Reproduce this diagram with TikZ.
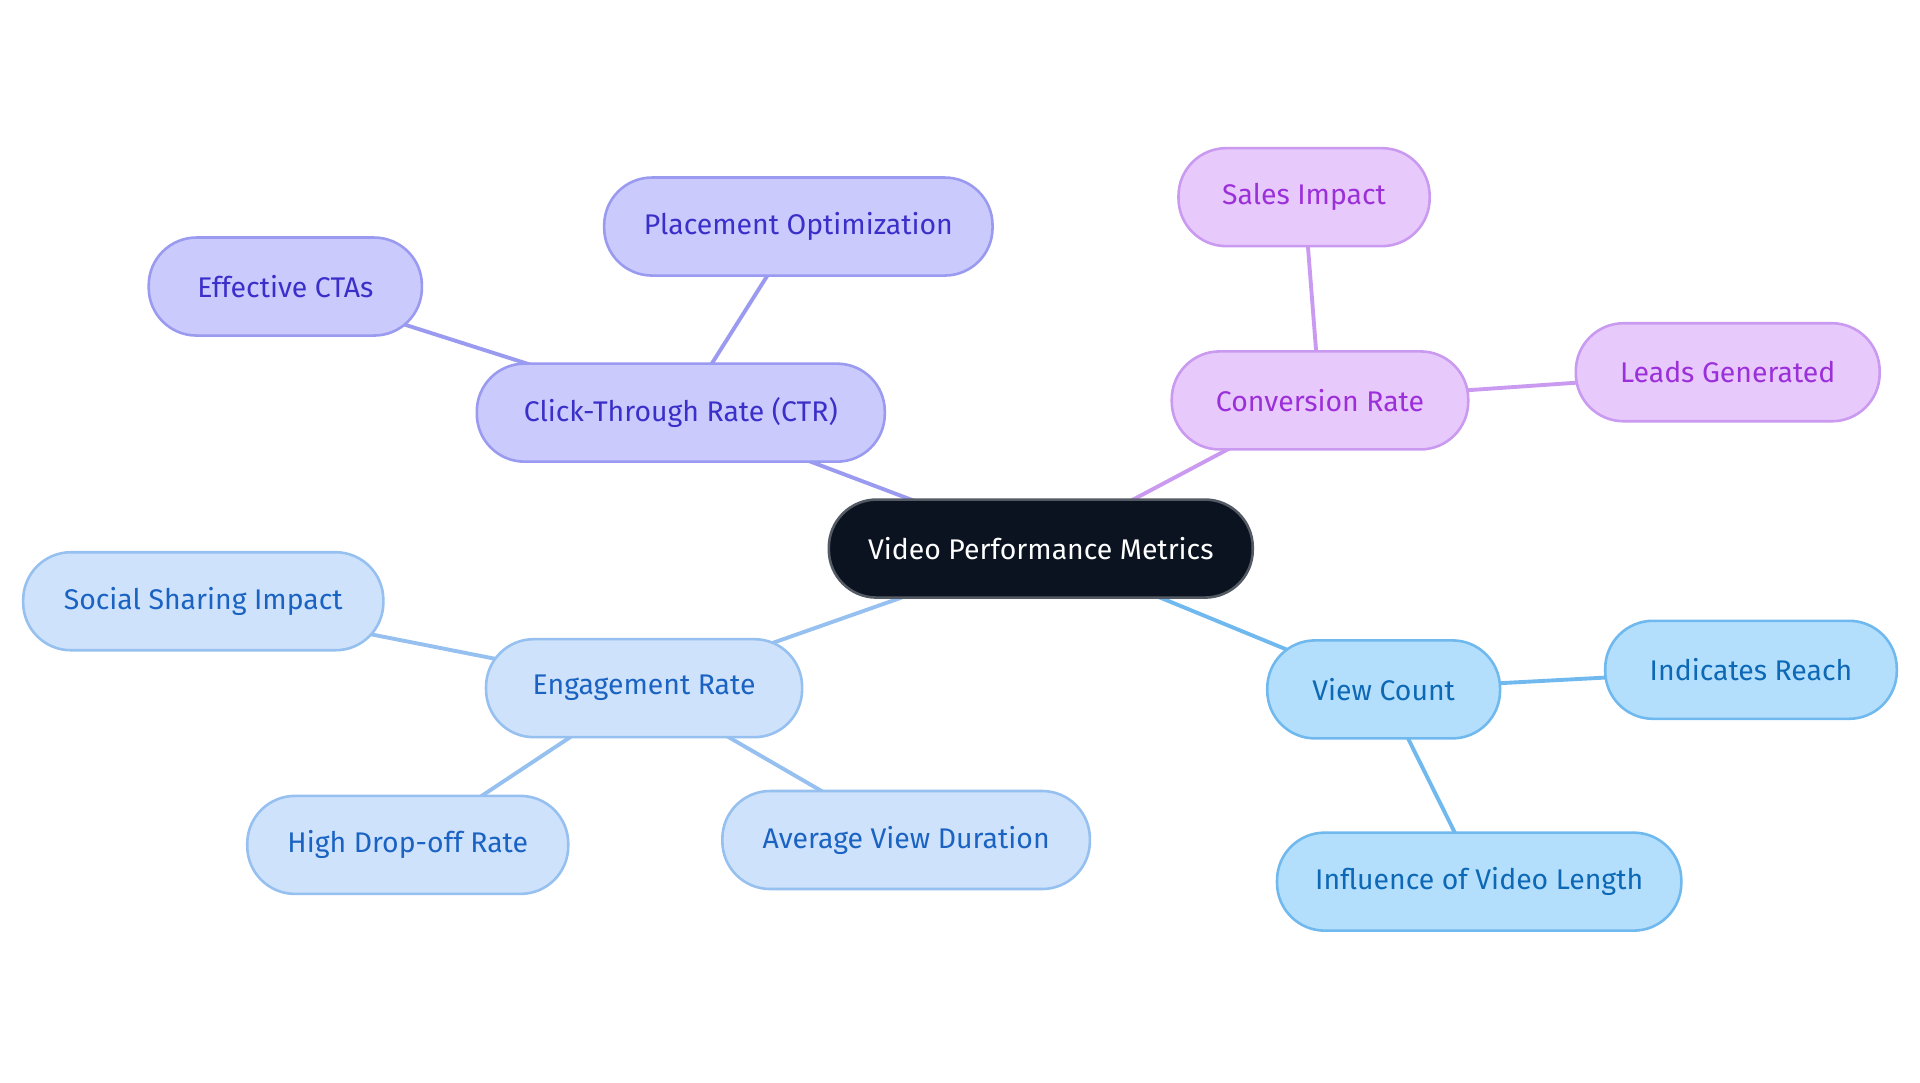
\documentclass[tikz,border=0pt]{standalone}
\usepackage{fontspec}
\setmainfont{Fira Sans}
\usetikzlibrary{backgrounds}
\definecolor{cb}{HTML}{0B1320}
\definecolor{pf}{HTML}{CACAFD}\definecolor{pd}{HTML}{9A9AF0}\definecolor{pt}{HTML}{3B2FC9}
\definecolor{mf}{HTML}{E8C9FC}\definecolor{md}{HTML}{C99AF0}\definecolor{mt}{HTML}{9B30D9}
\definecolor{ef}{HTML}{CFE2FB}\definecolor{ed}{HTML}{95C0F0}\definecolor{et}{HTML}{1A63C2}
\definecolor{vf}{HTML}{B3DFFC}\definecolor{vd}{HTML}{70B9EE}\definecolor{vt}{HTML}{0D68B5}
\tikzset{
 box/.style={rounded corners=0.39cm, minimum height=0.8cm, line width=0.6pt, font=\fontsize{6.6}{8}\selectfont, inner sep=0pt},
 P/.style={box, fill=pf, draw=pd, text=pt},
 M/.style={box, fill=mf, draw=md, text=mt},
 E/.style={box, fill=ef, draw=ed, text=et},
 V/.style={box, fill=vf, draw=vd, text=vt},
 ln/.style={line width=0.9pt}
}
\begin{document}
\begin{tikzpicture}[x=0.01cm,y=-0.01cm]
\useasboundingbox (0,0) rectangle (1568,884);
\node[box, fill=cb, draw=cb!70, text=white, minimum width=3.46cm] (c) at (850,448) {Video Performance Metrics};
\node[P, minimum width=3.33cm] (ctr) at (556,337) {Click-Through Rate (CTR)};
\node[P, minimum width=3.17cm] (po) at (652,185) {Placement Optimization};
\node[P, minimum width=2.23cm] (cta) at (233,234) {Effective CTAs};
\node[M, minimum width=2.42cm] (cr) at (1078,327) {Conversion Rate};
\node[M, minimum width=2.05cm] (si) at (1065,161) {Sales Impact};
\node[M, minimum width=2.48cm] (lg) at (1411,304) {Leads Generated};
\node[E, minimum width=2.58cm] (er) at (526,562) {Engagement Rate};
\node[E, minimum width=2.94cm] (ss) at (166,491) {Social Sharing Impact};
\node[E, minimum width=2.62cm] (hd) at (333,690) {High Drop-off Rate};
\node[E, minimum width=3.00cm] (av) at (740,686) {Average View Duration};
\node[V, minimum width=1.90cm] (vc) at (1130,563) {View Count};
\node[V, minimum width=2.38cm] (ir) at (1430,547) {Indicates Reach};
\node[V, minimum width=3.30cm] (il) at (1208,720) {Influence of Video Length};
\begin{scope}[on background layer]
\draw[ln, pd] (c.center) -- (ctr.center) (ctr.center) -- (po.center) (ctr.center) -- (cta.center);
\draw[ln, md] (c.center) -- (cr.center) (cr.center) -- (si.center) (cr.center) -- (lg.center);
\draw[ln, ed] (c.center) -- (er.center) (er.center) -- (ss.center) (er.center) -- (hd.center) (er.center) -- (av.center);
\draw[ln, vd] (c.center) -- (vc.center) (vc.center) -- (ir.center) (vc.center) -- (il.center);
\end{scope}
\end{tikzpicture}
\end{document}
